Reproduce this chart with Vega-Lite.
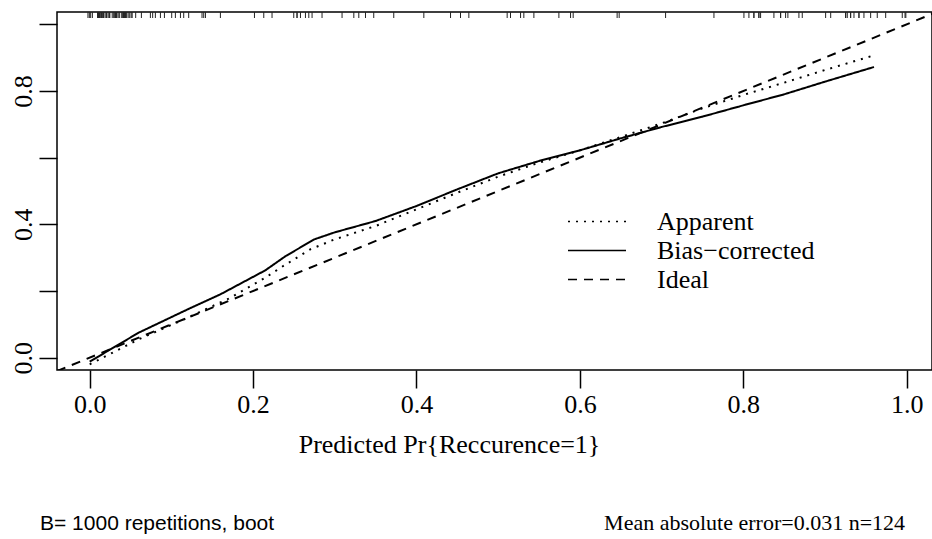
{
  "$schema": "https://vega.github.io/schema/vega-lite/v6.json",
  "width": 875,
  "height": 358,
  "autosize": {"type": "none"},
  "padding": {"left": 57, "top": 12, "right": 0, "bottom": 169},
  "background": "white",
  "config": {
    "view": {"stroke": "black", "strokeWidth": 1.5},
    "axis": {"grid": false, "domain": false, "tickColor": "black", "tickWidth": 1.5, "labelColor": "black", "labelFont": "Liberation Serif", "labelFontSize": 26, "titleColor": "black"}
  },
  "datasets": {
    "curves": [
      {"x": -0.04, "y": -0.04, "series": "Ideal"},
      {"x": 1.04, "y": 1.04, "series": "Ideal"},
      {"x": 0.0, "y": -0.02, "series": "Apparent"},
      {"x": 0.06, "y": 0.055, "series": "Apparent"},
      {"x": 0.12, "y": 0.12, "series": "Apparent"},
      {"x": 0.17, "y": 0.177, "series": "Apparent"},
      {"x": 0.215, "y": 0.24, "series": "Apparent"},
      {"x": 0.235, "y": 0.272, "series": "Apparent"},
      {"x": 0.27, "y": 0.325, "series": "Apparent"},
      {"x": 0.3, "y": 0.355, "series": "Apparent"},
      {"x": 0.35, "y": 0.395, "series": "Apparent"},
      {"x": 0.4, "y": 0.445, "series": "Apparent"},
      {"x": 0.45, "y": 0.495, "series": "Apparent"},
      {"x": 0.5, "y": 0.543, "series": "Apparent"},
      {"x": 0.55, "y": 0.585, "series": "Apparent"},
      {"x": 0.6, "y": 0.622, "series": "Apparent"},
      {"x": 0.65, "y": 0.662, "series": "Apparent"},
      {"x": 0.7, "y": 0.703, "series": "Apparent"},
      {"x": 0.75, "y": 0.748, "series": "Apparent"},
      {"x": 0.8, "y": 0.788, "series": "Apparent"},
      {"x": 0.85, "y": 0.825, "series": "Apparent"},
      {"x": 0.9, "y": 0.863, "series": "Apparent"},
      {"x": 0.96, "y": 0.907, "series": "Apparent"},
      {"x": 0.0, "y": -0.012, "series": "Bias−corrected"},
      {"x": 0.06, "y": 0.075, "series": "Bias−corrected"},
      {"x": 0.12, "y": 0.145, "series": "Bias−corrected"},
      {"x": 0.16, "y": 0.19, "series": "Bias−corrected"},
      {"x": 0.215, "y": 0.262, "series": "Bias−corrected"},
      {"x": 0.24, "y": 0.305, "series": "Bias−corrected"},
      {"x": 0.275, "y": 0.355, "series": "Bias−corrected"},
      {"x": 0.3, "y": 0.376, "series": "Bias−corrected"},
      {"x": 0.35, "y": 0.41, "series": "Bias−corrected"},
      {"x": 0.4, "y": 0.455, "series": "Bias−corrected"},
      {"x": 0.45, "y": 0.505, "series": "Bias−corrected"},
      {"x": 0.5, "y": 0.553, "series": "Bias−corrected"},
      {"x": 0.55, "y": 0.59, "series": "Bias−corrected"},
      {"x": 0.6, "y": 0.622, "series": "Bias−corrected"},
      {"x": 0.65, "y": 0.658, "series": "Bias−corrected"},
      {"x": 0.7, "y": 0.692, "series": "Bias−corrected"},
      {"x": 0.75, "y": 0.723, "series": "Bias−corrected"},
      {"x": 0.8, "y": 0.757, "series": "Bias−corrected"},
      {"x": 0.85, "y": 0.79, "series": "Bias−corrected"},
      {"x": 0.9, "y": 0.828, "series": "Bias−corrected"},
      {"x": 0.96, "y": 0.872, "series": "Bias−corrected"}
    ],
    "rug": [
      {"x": -0.0021}, {"x": -0.0004}, {"x": 0.0012}, {"x": 0.0033}, {"x": 0.0098}, {"x": 0.011}, {"x": 0.0122}, {"x": 0.0135},
      {"x": 0.0147}, {"x": 0.0159}, {"x": 0.0171}, {"x": 0.019}, {"x": 0.0208}, {"x": 0.0227}, {"x": 0.0245}, {"x": 0.0276},
      {"x": 0.0294}, {"x": 0.0306}, {"x": 0.0318}, {"x": 0.0331}, {"x": 0.0349}, {"x": 0.0367}, {"x": 0.0392}, {"x": 0.0404},
      {"x": 0.0416}, {"x": 0.0429}, {"x": 0.0441}, {"x": 0.0453}, {"x": 0.0471}, {"x": 0.049}, {"x": 0.0508}, {"x": 0.052},
      {"x": 0.0563}, {"x": 0.0633}, {"x": 0.0743}, {"x": 0.0771}, {"x": 0.0804}, {"x": 0.0866}, {"x": 0.0915}, {"x": 0.1004},
      {"x": 0.1049}, {"x": 0.1111}, {"x": 0.1151}, {"x": 0.1212}, {"x": 0.1375}, {"x": 0.1396}, {"x": 0.1417}, {"x": 0.16},
      {"x": 0.2017}, {"x": 0.2131}, {"x": 0.2232}, {"x": 0.2498}, {"x": 0.2538}, {"x": 0.258}, {"x": 0.2641}, {"x": 0.2682},
      {"x": 0.2722}, {"x": 0.2844}, {"x": 0.3089}, {"x": 0.3233}, {"x": 0.3294}, {"x": 0.3376}, {"x": 0.3477}, {"x": 0.3722},
      {"x": 0.409}, {"x": 0.4417}, {"x": 0.4539}, {"x": 0.4641}, {"x": 0.511}, {"x": 0.5151}, {"x": 0.5274}, {"x": 0.5314},
      {"x": 0.5437}, {"x": 0.5743}, {"x": 0.5886}, {"x": 0.5918}, {"x": 0.6456}, {"x": 0.6481}, {"x": 0.7049}, {"x": 0.7641},
      {"x": 0.8008}, {"x": 0.8069}, {"x": 0.813}, {"x": 0.8191}, {"x": 0.8212}, {"x": 0.8375}, {"x": 0.8457}, {"x": 0.8518},
      {"x": 0.8546}, {"x": 0.8681}, {"x": 0.8722}, {"x": 0.9008}, {"x": 0.907}, {"x": 0.9253}, {"x": 0.9273}, {"x": 0.9314},
      {"x": 0.9355}, {"x": 0.9416}, {"x": 0.9477}, {"x": 0.9559}, {"x": 0.964}, {"x": 0.9743}, {"x": 0.9946}, {"x": 0.998},
      {"x": 0.999}, {"x": 0.0147}, {"x": 0.0171}, {"x": 0.0208}, {"x": 0.0245}, {"x": 0.0318}, {"x": 0.0331}, {"x": 0.0416},
      {"x": 0.0429}, {"x": 0.0441}, {"x": 0.0098}, {"x": 0.011}, {"x": 0.813}, {"x": 0.8191}, {"x": 0.9253}, {"x": 0.9314},
      {"x": 0.9416}, {"x": 0.8457}, {"x": 0.2538}, {"x": 0.0122}
    ]
  },
  "layer": [
    {
      "data": {"name": "rug"},
      "mark": {"type": "rule", "color": "#222222", "strokeWidth": 1},
      "encoding": {
        "x": {"field": "x", "type": "quantitative", "scale": {"domain": [-0.04, 1.031], "nice": false, "zero": false},
              "axis": {"values": [0, 0.2, 0.4, 0.6, 0.8, 1.0], "format": ".1f", "tickSize": 18, "labelPadding": 24, "labelBaseline": "alphabetic",
                       "title": "Predicted Pr{Reccurence=1}", "titleFont": "Liberation Serif", "titleFontSize": 26, "titleFontWeight": "normal",
                       "titleX": 392, "titleY": 82, "titleAlign": "center", "titleBaseline": "alphabetic", "labelFlush": false, "labelOverlap": false}},
        "y": {"datum": 1.037, "type": "quantitative", "scale": {"domain": [-0.037, 1.037], "nice": false, "zero": false},
              "axis": {"values": [0, 0.2, 0.4, 0.6, 0.8, 1.0], "title": null, "tickSize": 18, "labelPadding": 8, "labelAngle": 270,
                       "labelAlign": "center", "labelBaseline": "alphabetic", "labelFlush": false, "labelOverlap": false,
                       "labelExpr": "(datum.value > 0.15 && datum.value < 0.25) || (datum.value > 0.55 && datum.value < 0.65) || datum.value > 0.95 ? '' : format(datum.value, '.1f')"}},
        "y2": {"datum": 1.019}
      }
    },
    {
      "data": {"name": "curves"},
      "mark": {"type": "line", "color": "black", "strokeWidth": 2, "clip": true},
      "encoding": {
        "x": {"field": "x", "type": "quantitative"},
        "y": {"field": "y", "type": "quantitative"},
        "strokeDash": {"field": "series", "type": "nominal",
          "scale": {"domain": ["Apparent", "Bias−corrected", "Ideal"], "range": [[2, 6], [1, 0], [9, 7]]},
          "legend": {"title": null, "orient": "none", "legendX": 510, "legendY": 195, "symbolType": "stroke", "symbolSize": 3364,
                     "symbolStrokeWidth": 1.5, "symbolStrokeColor": "black", "labelFont": "Liberation Serif", "labelFontSize": 26,
                     "labelColor": "black", "labelOffset": 30, "clipHeight": 29, "rowPadding": 0, "labelLimit": 0}}
      }
    },
    {
      "data": {"values": [{"note": "B= 1000 repetitions, boot"}]},
      "mark": {"type": "text", "font": "Liberation Sans", "fontSize": 21, "align": "left", "baseline": "alphabetic", "color": "black"},
      "encoding": {"x": {"datum": -0.0608}, "y": {"datum": -0.516}, "text": {"field": "note"}}
    },
    {
      "data": {"values": [{"note": "Mean absolute error=0.031 n=124"}]},
      "mark": {"type": "text", "font": "Liberation Serif", "fontSize": 22, "align": "right", "baseline": "alphabetic", "color": "black"},
      "encoding": {"x": {"datum": 0.998}, "y": {"datum": -0.516}, "text": {"field": "note"}}
    }
  ]
}
